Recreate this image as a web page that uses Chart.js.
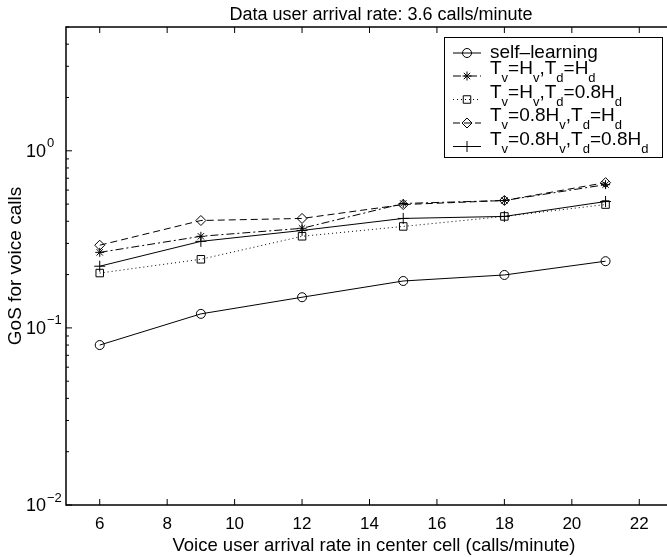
<!DOCTYPE html>
<html>
<head>
<meta charset="utf-8">
<script src="https://cdn.jsdelivr.net/npm/chart.js@4/dist/chart.umd.min.js"></script>
<style>
html, body { margin: 0; padding: 0; overflow: hidden; background: #fff; }
canvas { display: block; }
</style>
</head>
<body>
<canvas id="grafica" width="680" height="557"></canvas>
<script>
// datos
const tasaVoz = [6, 9, 12, 15, 18, 21]
const selfLearning = [0.080, 0.120, 0.149, 0.184, 0.199, 0.238]
const tvHvTdHd = [0.267, 0.329, 0.365, 0.504, 0.524, 0.644]
const tvHvTd08 = [0.204, 0.244, 0.329, 0.374, 0.426, 0.497]
const tv08TdHd = [0.293, 0.404, 0.415, 0.497, 0.524, 0.661]
const tv08Td08 = [0.223, 0.308, 0.355, 0.415, 0.426, 0.517]

const xTicks = [6, 8, 10, 12, 14, 16, 18, 20, 22]
const yTicks = [0.01, 0.1, 1]
const yExp = ['\u22122', '\u22121', '0']
const yMinor = [2, 3, 4, 5, 6, 7, 8, 9]

// [texto, subindice?]
const leyendas = [
    [['self\u2013learning', 0]],
    [['T', 0], ['v', 1], ['=H', 0], ['v', 1], [',T', 0], ['d', 1], ['=H', 0], ['d', 1]],
    [['T', 0], ['v', 1], ['=H', 0], ['v', 1], [',T', 0], ['d', 1], ['=0.8H', 0], ['d', 1]],
    [['T', 0], ['v', 1], ['=0.8H', 0], ['v', 1], [',T', 0], ['d', 1], ['=H', 0], ['d', 1]],
    [['T', 0], ['v', 1], ['=0.8H', 0], ['v', 1], [',T', 0], ['d', 1], ['=0.8H', 0], ['d', 1]]
]

const FUENTE = '"Liberation Sans", Arial, Helvetica, sans-serif'

const puntos = (serie) => tasaVoz.map((x, i) => ({ x, y: serie[i] }))

const serie = (data, estilo, radio, dash) => ({
    data: puntos(data),
    borderColor: '#000',
    borderWidth: 1,
    borderDash: dash,
    pointStyle: estilo,
    pointRadius: radio,
    pointBorderColor: '#000',
    pointBackgroundColor: 'rgba(0,0,0,0)',
    pointBorderWidth: 1,
    tension: 0,
    fill: false
})

const datasets = [
    serie(selfLearning, 'circle', 4.5, []),
    serie(tvHvTdHd, 'star', 4.5, [8, 3, 2, 3]),
    serie(tvHvTd08, 'rect', 5.3, [1, 3]),
    serie(tv08TdHd, 'rectRot', 5, [7, 4]),
    serie(tv08Td08, 'cross', 5.5, [])
]

const linea = (ctx, x1, y1, x2, y2) => {
    ctx.beginPath()
    ctx.moveTo(x1, y1)
    ctx.lineTo(x2, y2)
    ctx.stroke()
}

const marco = {
    id: 'marco',
    afterDraw(chart) {
        const { ctx, chartArea: a, scales: { x, y } } = chart
        ctx.save()
        ctx.strokeStyle = '#000'
        ctx.fillStyle = '#000'
        ctx.setLineDash([])

        // ejes
        ctx.lineWidth = 1.5
        ctx.strokeRect(a.left, a.top, a.right - a.left, a.bottom - a.top)

        // ticks x
        ctx.lineWidth = 1
        xTicks.forEach(v => {
            const px = x.getPixelForValue(v)
            linea(ctx, px, a.bottom, px, a.bottom - 6)
            linea(ctx, px, a.top, px, a.top + 6)
        })

        // ticks y (log)
        yTicks.forEach(d => {
            const py = y.getPixelForValue(d)
            linea(ctx, a.left, py, a.left + 6, py)
            linea(ctx, a.right, py, a.right - 6, py)
            yMinor.forEach(k => {
                const v = k * d
                if (v > y.max) return
                const pm = y.getPixelForValue(v)
                linea(ctx, a.left, pm, a.left + 3, pm)
                linea(ctx, a.right, pm, a.right - 3, pm)
            })
        })

        // etiquetas x
        ctx.font = '17px ' + FUENTE
        ctx.textAlign = 'center'
        ctx.textBaseline = 'alphabetic'
        xTicks.forEach(v => {
            ctx.fillText(String(v), x.getPixelForValue(v), 529)
        })

        // etiquetas y
        yTicks.forEach((d, i) => {
            const py = y.getPixelForValue(d)
            ctx.font = '18px ' + FUENTE
            ctx.textAlign = 'right'
            ctx.textBaseline = 'middle'
            ctx.fillText('10', 46, py + 1)
            ctx.font = '13px ' + FUENTE
            ctx.textAlign = 'left'
            ctx.fillText(yExp[i], 47, py - 7)
        })

        // titulos
        ctx.font = '18px ' + FUENTE
        ctx.textAlign = 'center'
        ctx.textBaseline = 'alphabetic'
        ctx.fillText('Data user arrival rate: 3.6 calls/minute', 381, 20)
        ctx.font = '18.5px ' + FUENTE
        ctx.fillText('Voice user arrival rate in center cell (calls/minute)', 374, 551)
        ctx.save()
        ctx.translate(16, 266)
        ctx.rotate(-Math.PI / 2)
        ctx.font = '19px ' + FUENTE
        ctx.textBaseline = 'middle'
        ctx.fillText('GoS for voice calls', 0, 0)
        ctx.restore()

        // leyenda
        ctx.fillStyle = '#fff'
        ctx.fillRect(444, 37, 218, 120)
        ctx.lineWidth = 1
        ctx.strokeRect(444.5, 37.5, 218, 120)
        const filas = [53, 76, 99.5, 123, 146.5]
        datasets.forEach((ds, i) => {
            const fy = filas[i]
            ctx.strokeStyle = '#000'
            ctx.lineWidth = 1
            ctx.setLineDash(ds.borderDash)
            linea(ctx, 453, fy, 481, fy)
            ctx.setLineDash([])
            ctx.fillStyle = 'rgba(0,0,0,0)'
            Chart.helpers.drawPoint(ctx, {
                pointStyle: ds.pointStyle,
                radius: ds.pointRadius,
                rotation: 0,
                borderWidth: 1
            }, 467, fy)

            ctx.fillStyle = '#000'
            ctx.textAlign = 'left'
            ctx.textBaseline = 'alphabetic'
            let tx = 490
            const base = i === 0 ? fy + 5 : fy - 2
            leyendas[i].forEach(([txt, sub]) => {
                ctx.font = (sub ? '13px ' : '19px ') + FUENTE
                ctx.fillText(txt, tx, sub ? base + 8 : base)
                tx += ctx.measureText(txt).width
            })
        })
        ctx.restore()
    }
}

new Chart(document.getElementById('grafica'), {
    type: 'line',
    data: { datasets },
    options: {
        responsive: false,
        animation: false,
        devicePixelRatio: 1,
        layout: { padding: { left: 66, top: 27, right: 7, bottom: 52 } },
        plugins: { legend: { display: false }, tooltip: { enabled: false } },
        scales: {
            x: { type: 'linear', min: 5, max: 23, display: false },
            y: { type: 'logarithmic', min: 0.01, max: 5, display: false }
        }
    },
    plugins: [marco]
})
</script>
</body>
</html>
